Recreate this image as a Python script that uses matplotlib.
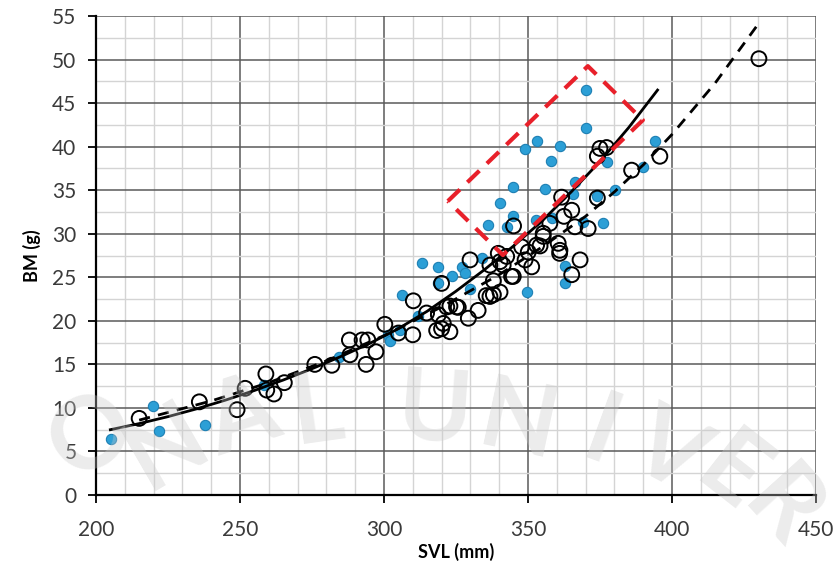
import matplotlib
matplotlib.use("Agg")
import matplotlib.pyplot as plt
from matplotlib.ticker import MultipleLocator

# blue filled points (SVL mm, BM g)
blue_svl = [205.1, 219.9, 222.0, 238.0, 258.5, 284.4, 301.5, 302.1, 306.1, 311.9,
            318.9, 313.1, 318.9, 323.5, 327.0, 328.1, 333.9, 336.2, 342.6, 329.9,
            349.5, 370.0, 370.0, 353.0, 349.0, 361.1, 357.9, 394.1, 377.3, 390.0,
            380.2, 366.3, 355.9, 344.9, 340.3, 373.9, 365.7, 358.2, 352.8, 344.9,
            376.1, 369.2, 362.8, 362.8, 305.6]
blue_bm = [6.4, 10.25, 7.4, 8.0, 12.6, 15.8, 18.4, 17.7, 23.0, 20.5,
           24.3, 26.6, 26.2, 25.1, 26.2, 25.45, 27.2, 31.0, 30.8, 23.7,
           23.3, 46.5, 42.1, 40.7, 39.7, 40.1, 38.4, 40.6, 38.2, 37.7,
           35.0, 36.0, 35.1, 35.4, 33.5, 34.3, 34.6, 31.8, 31.6, 32.0,
           31.2, 31.4, 26.3, 24.4, 18.9]

# open circles
open_svl = [215.0, 235.9, 249.0, 251.8, 259.0, 259.3, 261.8, 265.4, 276.0, 281.9,
            288.0, 288.2, 292.4, 294.4, 293.8, 297.2, 300.3, 305.0, 310.0, 310.2,
            314.8, 318.3, 320.0, 329.9, 345.0, 322.9, 318.9, 320.0, 322.9, 329.3,
            332.7, 325.8, 336.8, 340.3, 338.0, 344.3, 340.3, 339.7, 350.1, 349.0,
            351.3, 335.5, 338.0, 395.8, 375.0, 377.3, 374.1, 386.0, 374.1, 361.7,
            365.2, 362.5, 366.3, 370.9, 357.6, 355.3, 360.5, 361.1, 354.2, 368.1,
            365.2, 342.6, 341.4, 353.0, 355.3, 347.8, 361.0, 336.8, 344.9, 430.2,
            320.6, 321.8, 325.2]
open_bm = [8.8, 10.7, 9.8, 12.25, 13.9, 12.05, 11.6, 12.9, 15.0, 14.9,
           17.8, 16.1, 17.8, 17.8, 15.0, 16.45, 19.6, 18.6, 18.4, 22.3,
           20.9, 18.9, 24.3, 27.0, 30.9, 21.7, 20.7, 19.1, 18.75, 20.3,
           21.2, 21.55, 22.8, 23.3, 24.6, 25.1, 26.8, 27.75, 27.9, 27.0,
           26.2, 22.9, 23.0, 38.9, 39.8, 39.9, 38.9, 37.3, 34.1, 34.2,
           32.7, 32.0, 30.8, 30.6, 31.2, 30.05, 28.9, 28.1, 28.6, 27.0,
           25.3, 27.4, 26.4, 28.7, 29.7, 28.5, 27.75, 26.4, 25.1, 50.1,
           19.7, 21.6, 21.6]

# trend curves
solid_svl = [205, 215, 225, 235, 245, 255, 265, 275, 285, 295, 305, 315, 325,
             335, 345, 355, 365, 375, 385, 395]
solid_bm = [7.5, 8.2, 9.0, 9.9, 10.9, 12.0, 13.2, 14.5, 15.9, 17.4, 19.1, 21.1,
            23.4, 25.9, 28.6, 31.5, 34.8, 38.3, 42.2, 46.5]

dash_svl = [215, 240, 260, 280, 300, 320, 340, 355, 370, 380, 390, 400, 415, 430]
dash_bm = [8.6, 10.8, 12.9, 15.4, 18.3, 21.6, 25.3, 28.5, 32.0, 34.8, 37.9, 41.4,
           47.3, 54.1]

# red dashed box (corners)
box_svl = [322.2, 370.8, 389.9, 341.3, 322.2]
box_bm = [33.75, 49.25, 43.05, 27.55, 33.75]

plt.rcParams["font.family"] = ["Lato", "DejaVu Sans"]

fig = plt.figure(figsize=(8.36, 5.73), dpi=100)
ax = fig.add_axes([0.1148, 0.1361, 0.8612, 0.8359])

# faint watermark letters behind the chart
wm = [("O", 0.11, 0.24, 40), ("N", 0.20, 0.22, 30), ("A", 0.29, 0.27, 18),
      ("L", 0.38, 0.28, 8), ("U", 0.52, 0.28, -4), ("N", 0.62, 0.26, -12),
      ("I", 0.72, 0.24, -20), ("V", 0.80, 0.21, -28), ("E", 0.875, 0.17, -38),
      ("R", 0.935, 0.11, -48)]
for ch, fx, fy, rot in wm:
    fig.text(fx, fy, ch, fontsize=72, fontweight="bold", color="#c9c9c9",
             alpha=0.35, rotation=rot, ha="center", va="center", zorder=0)
ax.set_facecolor("none")

ax.scatter(blue_svl, blue_bm, s=55, color="#2c9fd6", edgecolors="#1d7fb3",
           linewidths=0.8, zorder=3)
ax.scatter(open_svl, open_bm, s=115, facecolors="none", edgecolors="black",
           linewidths=1.4, zorder=4)
ax.plot(solid_svl, solid_bm, color="black", linewidth=2.0, zorder=5)
ax.plot(dash_svl, dash_bm, color="black", linewidth=2.0, dashes=(4, 3), zorder=5)
ax.plot(box_svl, box_bm, color="#e8202a", linewidth=3.0, dashes=(4, 2.5), zorder=6)

ax.set_xlim(200, 450)
ax.set_ylim(0, 55)
ax.xaxis.set_major_locator(MultipleLocator(50))
ax.xaxis.set_minor_locator(MultipleLocator(10))
ax.yaxis.set_major_locator(MultipleLocator(5))
ax.yaxis.set_minor_locator(MultipleLocator(2.5))

ax.grid(which="major", color="#5a5a5a", linewidth=1.1, zorder=1)
ax.grid(which="minor", color="#d4d4d4", linewidth=1.0, zorder=0)
ax.set_axisbelow(True)

for side in ("top", "right"):
    ax.spines[side].set_visible(False)
for side in ("left", "bottom"):
    ax.spines[side].set_linewidth(1.6)
    ax.spines[side].set_color("black")

ax.tick_params(which="major", direction="out", length=6, width=1.3,
               labelsize=15, labelcolor="#3a3a3a", pad=12)
ax.tick_params(which="minor", length=0)
ax.tick_params(axis="y", pad=8)

ax.set_xlabel("SVL (mm)", fontsize=13, fontweight="bold", labelpad=2)
ax.set_ylabel("BM (g)", fontsize=13, fontweight="bold", labelpad=8)

fig.savefig("out.png", dpi=100)
